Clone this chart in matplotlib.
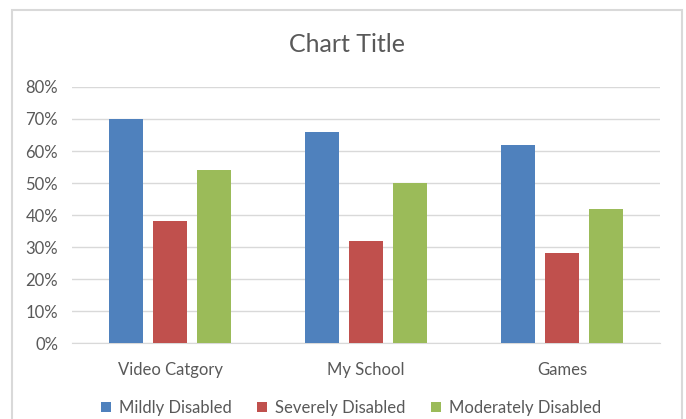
import numpy as np
import matplotlib.pyplot as plt
from matplotlib.patches import Rectangle
from matplotlib.ticker import PercentFormatter

categories = ['Video Catgory', 'My School', 'Games']
mildly = [70, 66, 62]
severely = [38, 32, 28]
moderately = [54, 50, 42]
series_names = ['Mildly Disabled', 'Severely Disabled', 'Moderately Disabled']
colors = ['#4f81bd', '#c0504d', '#9bbb59']

plt.rcParams['font.family'] = ['Lato', 'DejaVu Sans']
txt = '#595959'

fig = plt.figure(figsize=(6.86, 4.19), dpi=100)
ax = fig.add_axes([72 / 686, 1 - 343 / 419, 588 / 686, 256 / 419])

# chart border like excel
fig.patches.append(Rectangle((12 / 686, -0.05), 670 / 686, 1.05 - 10 / 419,
                             transform=fig.transFigure, fill=False,
                             edgecolor='#d9d9d9', linewidth=1.5))

x = np.arange(len(categories))
w = 0.176
step = 0.2245
for i, (vals, name) in enumerate(zip([mildly, severely, moderately], series_names)):
    ax.bar(x + (i - 1) * step, vals, w, color=colors[i], label=name, zorder=3)

ax.set_xlim(-0.5, 2.5)
ax.set_ylim(0, 80)
ax.set_yticks(range(0, 81, 10))
ax.yaxis.set_major_formatter(PercentFormatter(decimals=0))
ax.set_xticks(x)
ax.set_xticklabels(categories)
ax.grid(axis='y', color='#d9d9d9', linewidth=1, zorder=0)
for s in ['top', 'right', 'left']:
    ax.spines[s].set_visible(False)
ax.spines['bottom'].set_color('#d9d9d9')
ax.tick_params(length=0, labelsize=12, colors=txt, pad=10)
ax.tick_params(axis='x', pad=14)

fig.text(347 / 686, 1 - 45 / 419, 'Chart Title', ha='center', va='center',
         fontsize=18, color=txt)

ax.legend(loc='center', bbox_to_anchor=((351 - 72) / 588, (343 - 408) / 256), ncol=3,
          frameon=False, fontsize=12, labelcolor=txt, handlelength=0.6,
          handleheight=0.6, handletextpad=0.45, columnspacing=1.55)

fig.savefig('out.png', dpi=100)
